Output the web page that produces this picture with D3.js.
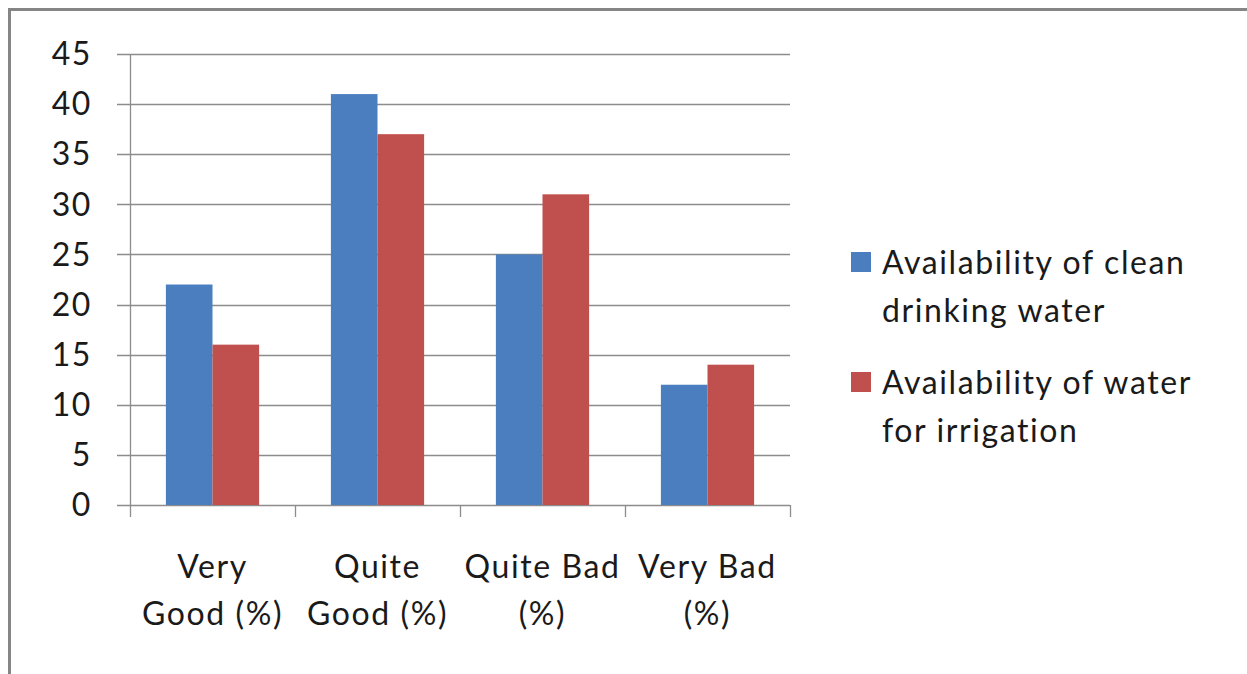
<!DOCTYPE html>
<html>
<head>
<meta charset="utf-8">
<script src="https://cdn.jsdelivr.net/npm/d3@7"></script>
<style>
  html, body { margin: 0; padding: 0; background: #fff; }
  svg { display: block; }
  text { font-family: Lato, "Open Sans", sans-serif; fill: #1a1a1a; letter-spacing: 1.6px; }
</style>
</head>
<body>
<svg id="chart" width="1247" height="674"></svg>
<script>
// Survey categories (two-line labels) and series
const categories = ["Very Good (%)", "Quite Good (%)", "Quite Bad (%)", "Very Bad (%)"];
const categoryLines = [["Very", "Good (%)"], ["Quite", "Good (%)"], ["Quite Bad", "(%)"], ["Very Bad", "(%)"]];
const seriesNames = ["Availability of clean drinking water", "Availability of water for irrigation"];
const legendLines = [["Availability of clean", "drinking water"], ["Availability of water", "for irrigation"]];
const drinkingWater = [22, 41, 25, 12];
const irrigationWater = [16, 37, 31, 14];
const yTicks = [0, 5, 10, 15, 20, 25, 30, 35, 40, 45];
const colors = ["#4a7ebe", "#c0504d"];

const FONT = 32;
const svg = d3.select("#chart");

// Outer frame
svg.append("rect")
  .attr("x", 9.5).attr("y", 9.5)
  .attr("width", 1260).attr("height", 700)
  .attr("fill", "none").attr("stroke", "#858585").attr("stroke-width", 3);

const plot = { left: 130, right: 790, top: 54, bottom: 505 };

const x0 = d3.scaleBand().domain(categories).range([plot.left, plot.right]).paddingInner(0).paddingOuter(0);
const x1 = d3.scaleBand().domain([0, 1]).range([0, x0.bandwidth()]).paddingInner(0).paddingOuter(0.77);
const y = d3.scaleLinear().domain([0, 45]).range([plot.bottom, plot.top]);

const g = svg.append("g");

// Horizontal gridlines
g.selectAll("line.grid").data(yTicks).join("line")
  .attr("class", "grid")
  .attr("x1", plot.left - 13).attr("x2", plot.right)
  .attr("y1", d => Math.round(y(d)) + 0.5).attr("y2", d => Math.round(y(d)) + 0.5)
  .attr("stroke", "#8c8c8c").attr("stroke-width", 1.3);

// Y tick labels
g.selectAll("text.ytick").data(yTicks).join("text")
  .attr("class", "ytick")
  .attr("x", 92).attr("y", d => y(d))
  .attr("dy", "0.35em")
  .attr("text-anchor", "end")
  .attr("font-size", FONT)
  .text(d => d);

// Bars
const rows = categories.map((c, i) => ({ c, vals: [drinkingWater[i], irrigationWater[i]] }));
const groups = g.selectAll("g.cat").data(rows).join("g")
  .attr("class", "cat")
  .attr("transform", d => `translate(${x0(d.c)},0)`);
groups.selectAll("rect").data(d => d.vals.map((v, k) => ({ v, k }))).join("rect")
  .attr("x", d => x1(d.k))
  .attr("width", x1.bandwidth())
  .attr("y", d => y(d.v))
  .attr("height", d => y(0) - y(d.v))
  .attr("fill", d => colors[d.k]);

// Y axis line
g.append("line")
  .attr("x1", plot.left + 0.5).attr("x2", plot.left + 0.5)
  .attr("y1", plot.top).attr("y2", plot.bottom)
  .attr("stroke", "#8c8c8c").attr("stroke-width", 1.3);

// X axis with category tick marks
const xTickPos = categories.map(c => x0(c)).concat([plot.right]);
g.selectAll("line.xtick").data(xTickPos).join("line")
  .attr("class", "xtick")
  .attr("x1", d => d + 0.5).attr("x2", d => d + 0.5)
  .attr("y1", plot.bottom).attr("y2", plot.bottom + 12)
  .attr("stroke", "#8c8c8c").attr("stroke-width", 1.3);

// Category labels
categoryLines.forEach((lines, i) => {
  const cx = x0(categories[i]) + x0.bandwidth() / 2;
  lines.forEach((t, j) => {
    g.append("text")
      .attr("x", cx).attr("y", 578 + j * 47)
      .attr("text-anchor", "middle")
      .attr("font-size", FONT)
      .text(t);
  });
});

// Legend
const legend = svg.append("g");
legendLines.forEach((lines, i) => {
  const top = 252 + i * 120;
  legend.append("rect")
    .attr("x", 851).attr("y", top)
    .attr("width", 20).attr("height", 20)
    .attr("fill", colors[i]);
  lines.forEach((t, j) => {
    legend.append("text")
      .attr("x", 882).attr("y", top + 22 + j * 48)
      .attr("font-size", FONT)
      .text(t);
  });
});
</script>
</body>
</html>
